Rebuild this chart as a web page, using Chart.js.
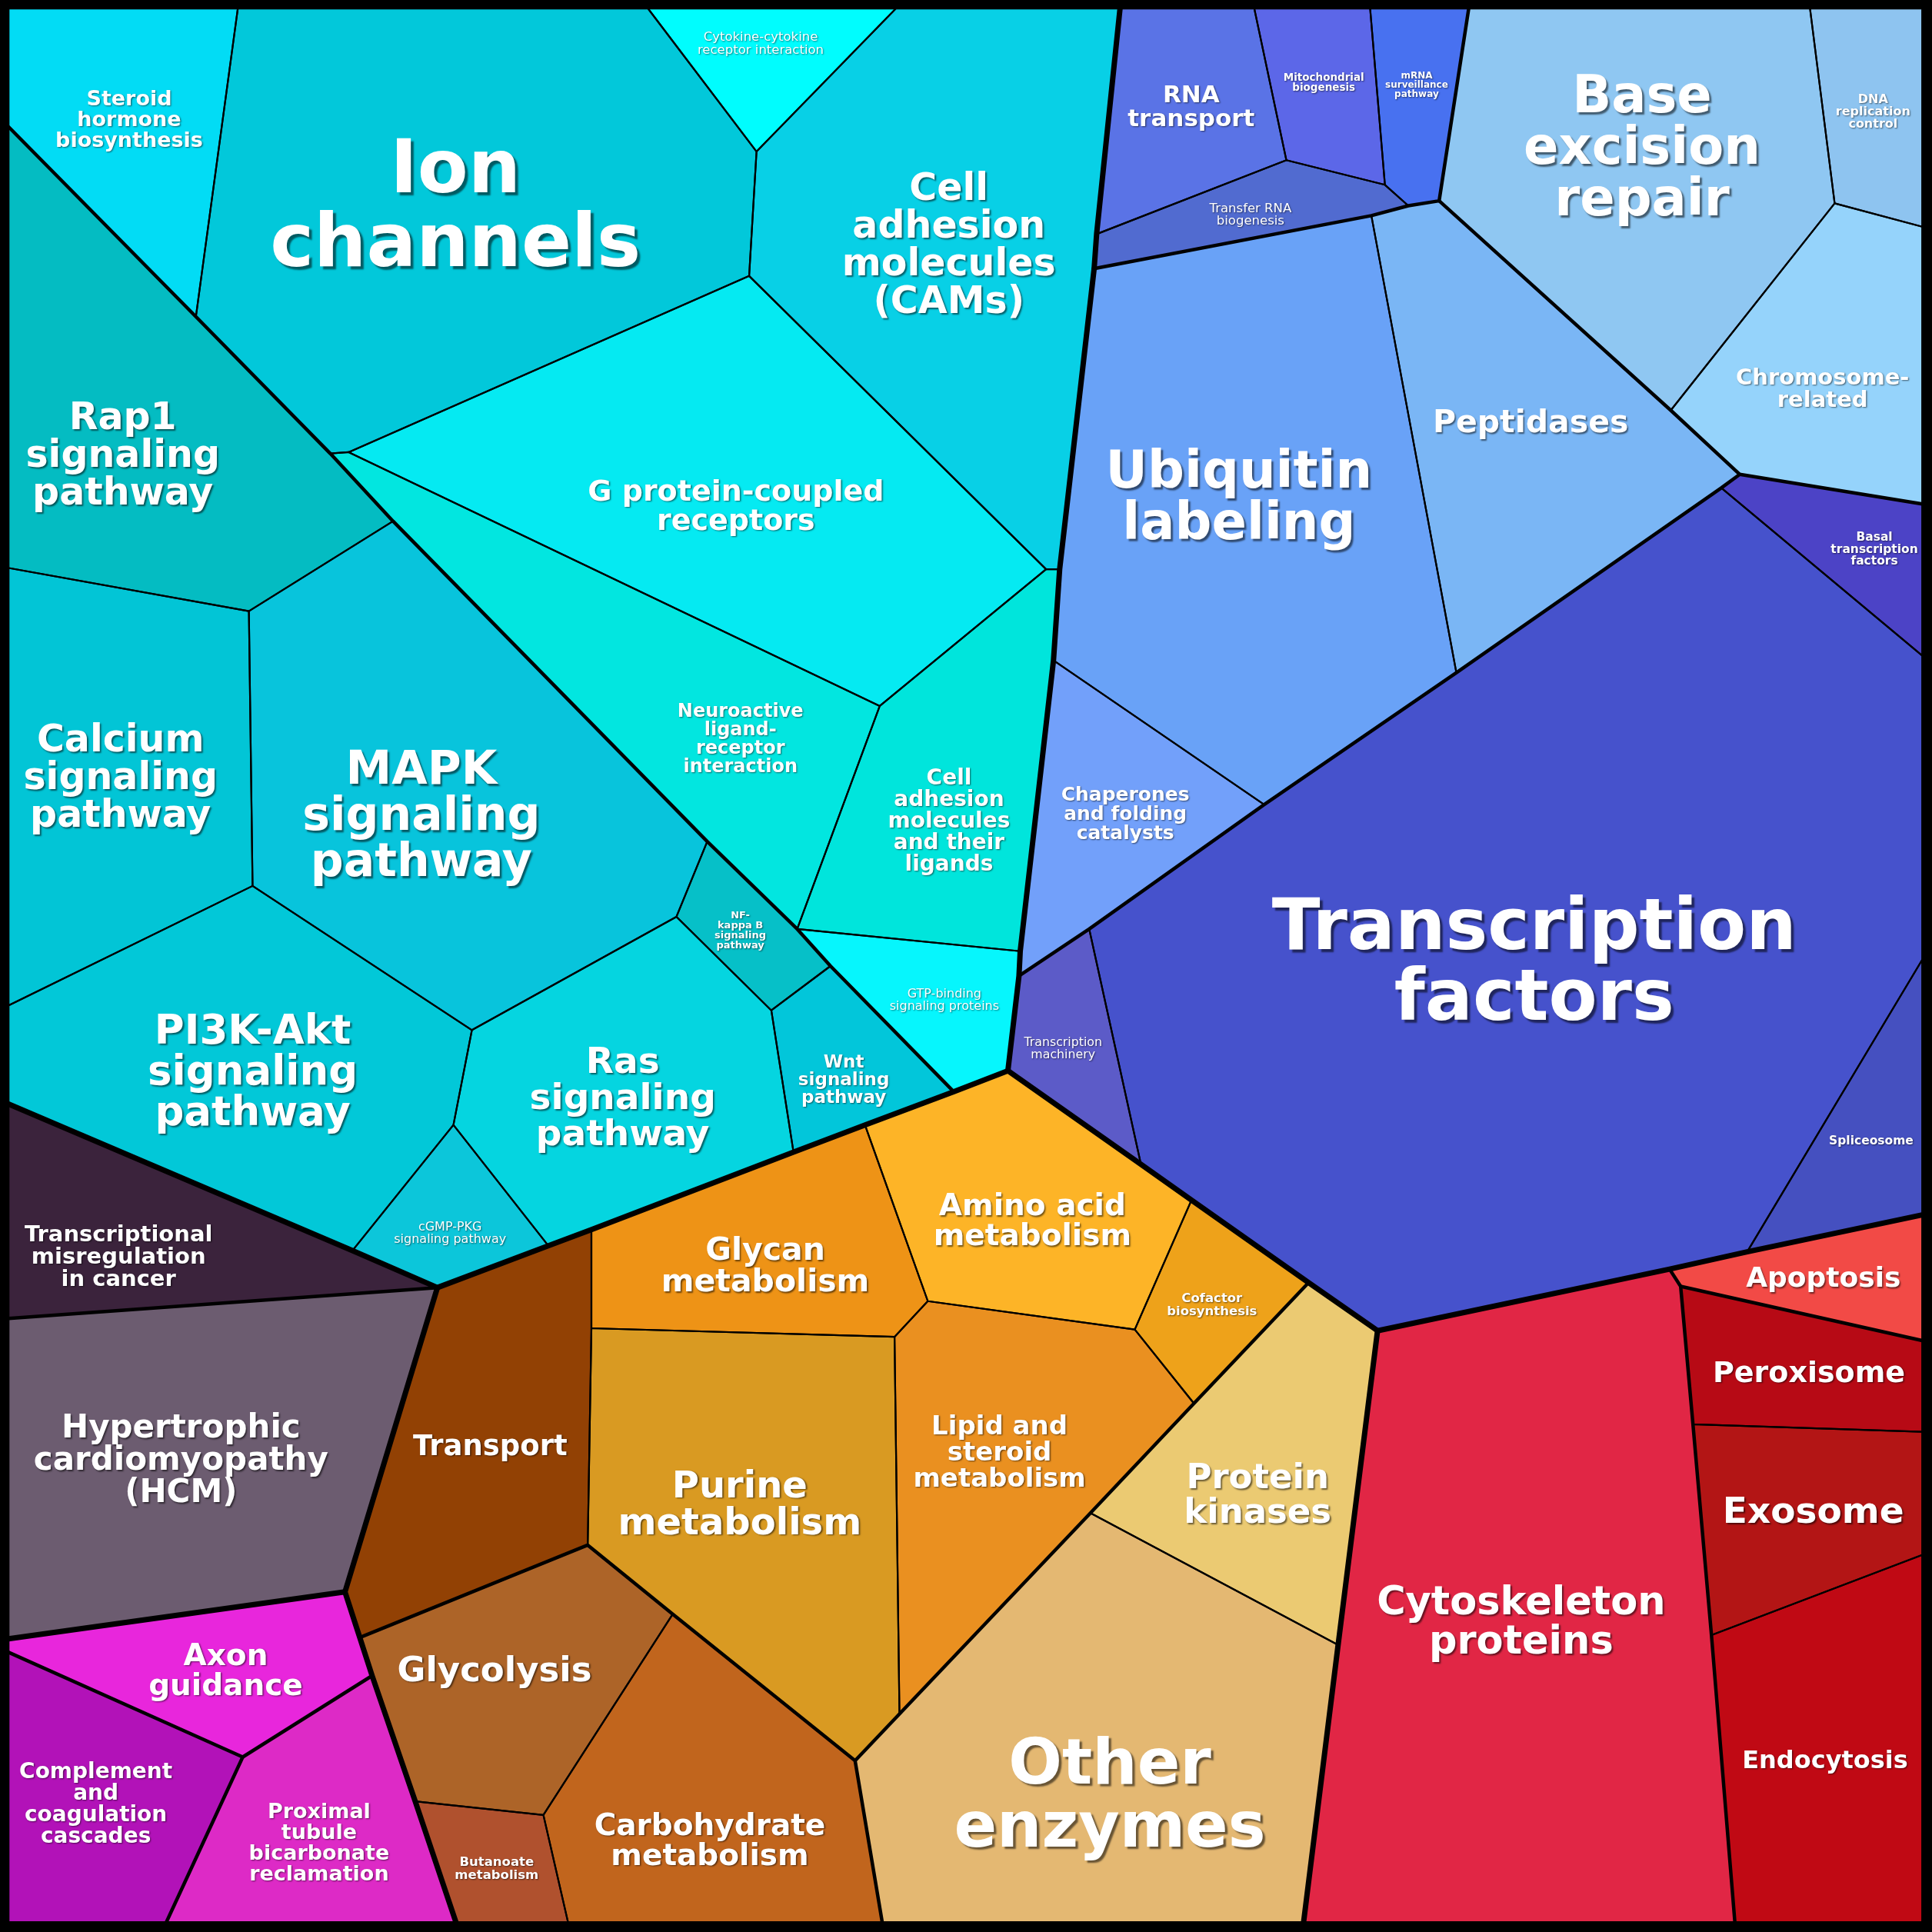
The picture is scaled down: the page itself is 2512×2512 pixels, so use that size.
<!DOCTYPE html>
<html>
<head>
<meta charset="utf-8">
<style>
  html, body { margin: 0; padding: 0; background: #000; }
  #wrap { width: 2512px; height: 2512px; }
</style>
<script src="https://cdn.jsdelivr.net/npm/chart.js@4.4.1/dist/chart.umd.min.js"></script>
</head>
<body>
<div id="wrap"><canvas id="chart"></canvas></div>
<script>
// cell names (line breaks as shown in the picture)
const cellNames = [
    "Steroid\nhormone\nbiosynthesis", "Ion\nchannels", "Cytokine-cytokine\nreceptor interaction",
    "Cell\nadhesion\nmolecules\n(CAMs)", "G protein-coupled\nreceptors", "Neuroactive\nligand-\nreceptor\ninteraction",
    "Cell\nadhesion\nmolecules\nand their\nligands", "GTP-binding\nsignaling proteins",
    "Rap1\nsignaling\npathway", "Calcium\nsignaling\npathway", "MAPK\nsignaling\npathway",
    "PI3K-Akt\nsignaling\npathway", "Ras\nsignaling\npathway", "cGMP-PKG\nsignaling pathway",
    "NF-\nkappa B\nsignaling\npathway", "Wnt\nsignaling\npathway",
    "RNA\ntransport", "Mitochondrial\nbiogenesis", "mRNA\nsurveillance\npathway", "Transfer RNA\nbiogenesis",
    "Base\nexcision\nrepair", "DNA\nreplication\ncontrol", "Chromosome-\nrelated", "Peptidases",
    "Ubiquitin\nlabeling", "Chaperones\nand folding\ncatalysts", "Transcription\nmachinery",
    "Transcription\nfactors", "Basal\ntranscription\nfactors", "Spliceosome",
    "Apoptosis", "Cytoskeleton\nproteins", "Peroxisome", "Exosome", "Endocytosis",
    "Transport", "Glycan\nmetabolism", "Amino acid\nmetabolism", "Cofactor\nbiosynthesis",
    "Lipid and\nsteroid\nmetabolism", "Purine\nmetabolism", "Protein\nkinases", "Other\nenzymes",
    "Glycolysis", "Butanoate\nmetabolism", "Carbohydrate\nmetabolism",
    "Transcriptional\nmisregulation\nin cancer", "Hypertrophic\ncardiomyopathy\n(HCM)",
    "Axon\nguidance", "Complement\nand\ncoagulation\ncascades", "Proximal\ntubule\nbicarbonate\nreclamation"
];

// polygon vertices of every cell (0..1568 units, y down)
const cellVertices = [
    [[7,7],[193,7],[159,257],[7,103]],
    [[193,7],[526,7],[614,123],[608,224],[283,367],[268,368],[159,257]],
    [[526,7],[727,7],[614,123]],
    [[727,7],[909,7],[890,190],[888,218],[860,462],[849,462],[608,224],[614,123]],
    [[283,367],[608,224],[849,462],[714,573]],
    [[268,368],[283,367],[714,573],[647,754],[574,683],[319,423]],
    [[714,573],[849,462],[860,462],[855,536],[828,772],[647,754]],
    [[647,754],[828,772],[827,792],[818,869],[774,886],[674,784]],
    [[7,103],[159,257],[268,368],[319,423],[202,496],[7,461]],
    [[7,461],[202,496],[205,719],[7,816]],
    [[202,496],[319,423],[574,683],[549,744],[383,836],[205,719]],
    [[7,816],[205,719],[383,836],[368,913],[286,1015],[7,896]],
    [[383,836],[549,744],[626,820],[644,935],[445,1011],[368,913]],
    [[368,913],[445,1011],[355,1045],[286,1015]],
    [[574,683],[647,754],[674,784],[626,820],[549,744]],
    [[674,784],[774,886],[644,935],[626,820]],
    [[909,7],[1018,7],[1044,130],[890,190]],
    [[1018,7],[1112,7],[1124,150],[1044,130]],
    [[1112,7],[1192,7],[1168,163],[1143,167],[1124,150]],
    [[890,190],[1044,130],[1124,150],[1143,167],[1113,175],[888,218]],
    [[1192,7],[1469,7],[1489,165],[1356,333],[1168,163]],
    [[1469,7],[1560,7],[1560,184],[1489,165]],
    [[1489,165],[1560,184],[1560,409],[1412,385],[1356,333]],
    [[1113,175],[1143,167],[1168,163],[1356,333],[1412,385],[1397,396],[1182,546]],
    [[888,218],[1113,175],[1182,546],[1026,653],[855,536],[860,462]],
    [[855,536],[1026,653],[884,754],[827,792],[828,772]],
    [[827,792],[884,754],[926,945],[818,869]],
    [[884,754],[1026,653],[1182,546],[1397,396],[1560,532],[1560,779],[1418,1016],[1355,1030],[1118,1080],[1062,1041],[967,974],[926,945]],
    [[1397,396],[1412,385],[1560,409],[1560,532]],
    [[1560,779],[1560,986],[1418,1016]],
    [[1355,1030],[1418,1016],[1560,986],[1560,1088],[1364,1044]],
    [[1118,1080],[1355,1030],[1364,1044],[1374,1156],[1389,1327],[1408,1560],[1058,1560],[1086,1335]],
    [[1364,1044],[1560,1088],[1560,1162],[1374,1156]],
    [[1374,1156],[1560,1162],[1560,1262],[1389,1327]],
    [[1389,1327],[1560,1262],[1560,1560],[1408,1560]],
    [[355,1045],[445,1011],[480,998],[480,1078],[477,1254],[292,1329],[280,1292]],
    [[480,998],[644,935],[702,913],[753,1056],[726,1085],[480,1078]],
    [[702,913],[774,886],[818,869],[926,945],[967,974],[921,1079],[753,1056]],
    [[967,974],[1062,1041],[969,1139],[921,1079]],
    [[753,1056],[921,1079],[969,1139],[885,1228],[730,1391],[726,1085]],
    [[480,1078],[726,1085],[730,1391],[694,1429],[546,1310],[477,1254]],
    [[969,1139],[1062,1041],[1118,1080],[1086,1335],[885,1228]],
    [[694,1429],[730,1391],[885,1228],[1086,1335],[1058,1560],[716,1560]],
    [[292,1329],[477,1254],[546,1310],[441,1473],[337,1462],[302,1360]],
    [[337,1462],[441,1473],[461,1560],[370,1560]],
    [[546,1310],[694,1429],[716,1560],[461,1560],[441,1473]],
    [[7,896],[286,1015],[355,1045],[7,1070]],
    [[7,1070],[355,1045],[280,1292],[7,1330]],
    [[7,1330],[280,1292],[302,1360],[197,1426],[7,1341]],
    [[7,1341],[197,1426],[135,1560],[7,1560]],
    [[197,1426],[302,1360],[337,1462],[370,1560],[135,1560]]
];

// top level group boundaries and sub group boundaries
const groupLines = [
    [[909,7],[890,190],[888,218],[860,462],[855,536],[828,772],[827,792],[818,869]],
    [[818,869],[774,886],[702,913],[644,935],[480,998],[445,1011],[355,1045],[286,1015],[7,896]],
    [[818,869],[926,945],[967,974],[1062,1041],[1118,1080]],
    [[1118,1080],[1355,1030],[1418,1016],[1560,986]],
    [[1118,1080],[1086,1335],[1058,1560]],
    [[355,1045],[280,1292],[292,1329],[302,1360],[337,1462],[370,1560]],
    [[7,1330],[280,1292]]
];
const subgroupLines = [
    [[7,103],[159,257],[268,368],[319,423],[574,683],[647,754],[674,784],[774,886]],
    [[888,218],[1113,175],[1143,167],[1168,163],[1192,7]],
    [[1168,163],[1356,333],[1412,385],[1560,409]],
    [[1412,385],[1397,396],[1182,546],[1026,653],[884,754],[827,792]],
    [[292,1329],[477,1254],[546,1310],[694,1429],[716,1560]],
    [[694,1429],[730,1391],[885,1228],[969,1139],[1062,1041]],
    [[1355,1030],[1364,1044],[1374,1156],[1389,1327],[1408,1560]],
    [[1364,1044],[1560,1088]],
    [[7,1070],[355,1045]],
    [[7,1341],[197,1426],[302,1360]],
    [[197,1426],[135,1560]]
];

// styles
const cellColors = [
    "#02dcf5", "#02c8da", "#00fdfe", "#08d0e6", "#05eaf2", "#02e6e0", "#00e5dc", "#06f6fd",
    "#04bcc2", "#02c5d6", "#08c4dc", "#02c8d8", "#05d5e0", "#0cc6da", "#06c0c8", "#02c6da",
    "#5a73e6", "#5c67e8", "#4871f0", "#516bd0", "#8fc7f2", "#8ec4f0", "#95d3fb", "#7ab6f5",
    "#69a2f7", "#72a0fa", "#5c5bc8", "#4652cc", "#4c43c6", "#4550c0",
    "#f24a46", "#e12645", "#b70a15", "#b31515", "#c00914",
    "#924104", "#ee9316", "#fdb427", "#eea21a", "#ea9020", "#d99a22", "#ebca72", "#e4b872",
    "#ad6428", "#b0512e", "#c1651d",
    "#3b233c", "#6c5c70", "#e826dc", "#b212b8", "#dd2ac6"
];
const labelSizes = [
    27, 96, 16.5, 49, 38, 24, 28, 16, 49, 49, 60, 53, 47, 16, 13, 23,
    31, 13.5, 12, 16.5, 67, 16, 29, 41, 67, 25, 15.8, 92, 15.5, 15.5,
    36, 51, 38, 47, 32, 37, 41, 39, 16.5, 34, 48, 45, 82, 45, 16.5, 39,
    29, 42, 39, 28, 27
];
// label nudges from the polygon centroid (chart units)
const labelNudges = [
    [0,0], [-2,7], [-5,-10], [-4,7], [3,14], [64,40], [0,24], [8,2],
    [-21,24], [0,8], [-18,22], [4,7], [-2,11], [0,11], [-6,-1], [0,14],
    [5,-1], [-1,-4], [0,-8], [3,2], [0,-14], [0,4], [-3,19], [7,-7],
    [-9,-5], [11,0], [-7,5], [-10,18], [20,5], [6,-1],
    [-5,2], [-5,-4], [10,4], [9,1], [-1,6],
    [4,6], [0,12], [6,13], [0,4], [-5,-4], [-16,0], [-7,24], [2,36],
    [-14,-7], [2,4], [0,30],
    [-27,17], [-14,7], [7,5], [-5,1], [0,11]
];
const normalWeight = ["Cytokine-cytokine\nreceptor interaction", "GTP-binding\nsignaling proteins",
    "cGMP-PKG\nsignaling pathway", "Transfer RNA\nbiogenesis", "Transcription\nmachinery"];

function centroid(pts) {
    let a = 0, cx = 0, cy = 0;
    for (let i = 0; i < pts.length; i++) {
        const [x0, y0] = pts[i];
        const [x1, y1] = pts[(i + 1) % pts.length];
        const c = x0 * y1 - x1 * y0;
        a += c; cx += (x0 + x1) * c; cy += (y0 + y1) * c;
    }
    a /= 2;
    return [cx / (6 * a), cy / (6 * a)];
}

const closed = pts => pts.concat([pts[0]]).map(p => ({x: p[0], y: p[1]}));
const open = pts => pts.map(p => ({x: p[0], y: p[1]}));

const datasets = [];
groupLines.forEach(l => datasets.push({
    data: open(l), showLine: true, borderColor: "#000", borderWidth: 7,
    pointRadius: 0, fill: false, order: 0
}));
subgroupLines.forEach(l => datasets.push({
    data: open(l), showLine: true, borderColor: "#000", borderWidth: 4.5,
    pointRadius: 0, fill: false, order: 0
}));
cellVertices.forEach((v, i) => datasets.push({
    label: cellNames[i], data: closed(v), showLine: true, borderColor: "#000", borderWidth: 2.2,
    backgroundColor: cellColors[i], pointRadius: 0, fill: false, order: 1, cell: i
}));

// fill every cell from the points the library placed, then write the labels
const cellFill = {
    id: "cellFill",
    beforeDatasetsDraw(chart) {
        const ctx = chart.ctx;
        chart.data.datasets.forEach((ds, di) => {
            if (ds.cell === undefined) return;
            const pts = chart.getDatasetMeta(di).data;
            ctx.save();
            ctx.beginPath();
            pts.forEach((p, k) => k ? ctx.lineTo(p.x, p.y) : ctx.moveTo(p.x, p.y));
            ctx.closePath();
            ctx.fillStyle = ds.backgroundColor;
            ctx.fill();
            ctx.restore();
        });
    },
    afterDatasetsDraw(chart) {
        const ctx = chart.ctx;
        const sx = chart.scales.x, sy = chart.scales.y;
        cellVertices.forEach((v, i) => {
            const [cx, cy] = centroid(v);
            const px = sx.getPixelForValue(cx + labelNudges[i][0]);
            const py = sy.getPixelForValue(cy + labelNudges[i][1]);
            const size = labelSizes[i];
            const lines = cellNames[i].split("\n");
            const weight = normalWeight.includes(cellNames[i]) ? "normal" : "bold";
            ctx.save();
            ctx.font = weight + " " + size + "px 'DejaVu Sans'";
            ctx.textAlign = "center";
            ctx.textBaseline = "middle";
            ctx.fillStyle = "#fff";
            ctx.shadowColor = "rgba(0,0,0,0.55)";
            ctx.shadowOffsetX = Math.max(1, size * 0.04);
            ctx.shadowOffsetY = Math.max(1, size * 0.04);
            ctx.shadowBlur = 2;
            lines.forEach((t, k) => {
                ctx.fillText(t, px, py + (k - (lines.length - 1) / 2) * size);
            });
            ctx.restore();
        });
    }
};

new Chart(document.getElementById("chart"), {
    type: "scatter",
    data: { datasets: datasets },
    options: {
        responsive: true,
        maintainAspectRatio: false,
        animation: false,
        layout: { padding: 0 },
        elements: { line: { tension: 0, borderJoinStyle: "round", borderCapStyle: "round" } },
        scales: {
            x: { type: "linear", min: 0, max: 1568, display: false },
            y: { type: "linear", min: 0, max: 1568, reverse: true, display: false }
        },
        plugins: {
            legend: { display: false },
            tooltip: { enabled: false }
        }
    },
    plugins: [cellFill]
});
</script>
</body>
</html>
